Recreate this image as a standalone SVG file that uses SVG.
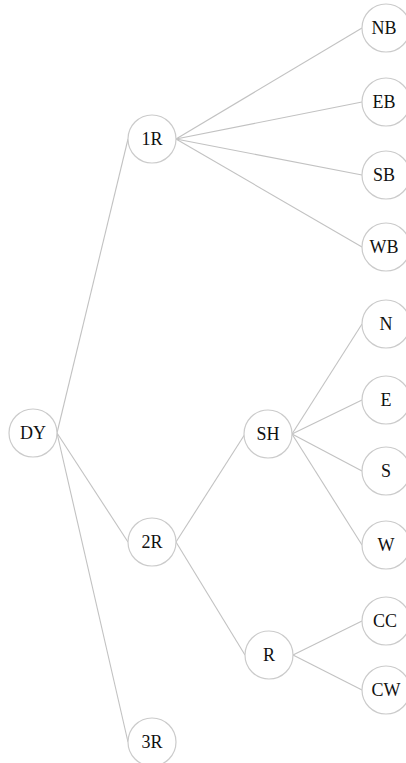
<svg xmlns="http://www.w3.org/2000/svg" width="406" height="763" viewBox="0 0 406 763">
  <style>
    .edge { stroke: #c2c2c2; stroke-width: 1.1; fill: none; }
    .node circle { fill: #ffffff; stroke: #cbcbcb; stroke-width: 1.2; }
    .node text { font-family: "Liberation Serif", "Times New Roman", serif; font-size: 18px; fill: #111111; text-anchor: middle; }
  </style>
  <rect width="406" height="763" fill="#ffffff"/>

  <!-- connectors: each runs from a parent's right edge to a child's left edge -->
  <g id="connectors">
    <line class="edge" x1="57" y1="433" x2="128" y2="139"/>
    <line class="edge" x1="57" y1="433" x2="128" y2="542"/>
    <line class="edge" x1="57" y1="433" x2="128" y2="742"/>

    <line class="edge" x1="176" y1="139" x2="362" y2="28"/>
    <line class="edge" x1="176" y1="139" x2="362" y2="102"/>
    <line class="edge" x1="176" y1="139" x2="362" y2="175"/>
    <line class="edge" x1="176" y1="139" x2="362" y2="247"/>

    <line class="edge" x1="176" y1="542" x2="245" y2="434"/>
    <line class="edge" x1="176" y1="542" x2="245" y2="655"/>

    <line class="edge" x1="292" y1="434" x2="362" y2="324"/>
    <line class="edge" x1="292" y1="434" x2="362" y2="400"/>
    <line class="edge" x1="292" y1="434" x2="362" y2="471"/>
    <line class="edge" x1="292" y1="434" x2="362" y2="545"/>

    <line class="edge" x1="293" y1="655" x2="362" y2="621"/>
    <line class="edge" x1="293" y1="655" x2="362" y2="690"/>
  </g>

  <g id="node-DY" class="node"><circle cx="33" cy="433" r="24"/><text x="33" y="439">DY</text></g>
  <g id="node-1R" class="node"><circle cx="152" cy="139" r="24"/><text x="152" y="145">1R</text></g>
  <g id="node-2R" class="node"><circle cx="152" cy="542" r="24"/><text x="152" y="548">2R</text></g>
  <g id="node-3R" class="node"><circle cx="152" cy="742" r="24"/><text x="152" y="748">3R</text></g>

  <g id="node-SH" class="node"><circle cx="268" cy="434" r="24"/><text x="268" y="440">SH</text></g>
  <g id="node-R" class="node"><circle cx="269" cy="655" r="24"/><text x="269" y="661">R</text></g>

  <g id="node-NB" class="node"><circle cx="386" cy="28" r="24"/><text x="384" y="34">NB</text></g>
  <g id="node-EB" class="node"><circle cx="386" cy="102" r="24"/><text x="384" y="108">EB</text></g>
  <g id="node-SB" class="node"><circle cx="386" cy="175" r="24"/><text x="384" y="181">SB</text></g>
  <g id="node-WB" class="node"><circle cx="386" cy="247" r="24"/><text x="384" y="253">WB</text></g>

  <g id="node-N" class="node"><circle cx="386" cy="324" r="24"/><text x="386" y="330">N</text></g>
  <g id="node-E" class="node"><circle cx="386" cy="400" r="24"/><text x="386" y="406">E</text></g>
  <g id="node-S" class="node"><circle cx="386" cy="471" r="24"/><text x="386" y="477">S</text></g>
  <g id="node-W" class="node"><circle cx="386" cy="545" r="24"/><text x="386" y="551">W</text></g>

  <g id="node-CC" class="node"><circle cx="386" cy="621" r="24"/><text x="385" y="627">CC</text></g>
  <g id="node-CW" class="node"><circle cx="386" cy="690" r="24"/><text x="386" y="696">CW</text></g>
</svg>
